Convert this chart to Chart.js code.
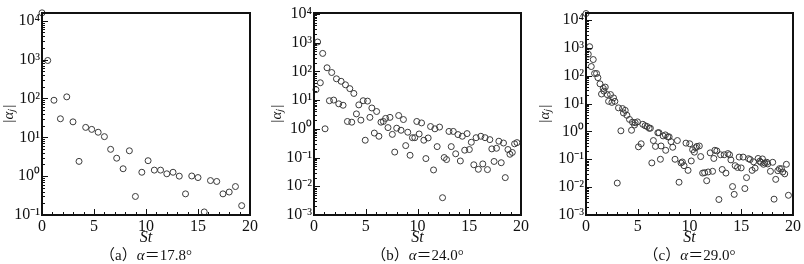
<!DOCTYPE html>
<html>
<head>
<meta charset="utf-8">
<script src="https://cdn.jsdelivr.net/npm/chart.js@4/dist/chart.umd.min.js"></script>
<style>
  html, body { margin: 0; padding: 0; background: #fff; }
  #wrap { position: relative; width: 804px; height: 264px; }
  canvas { position: absolute; top: 0; }
  .cap {
    position: absolute; top: 246px; height: 18px; line-height: 18px;
    text-align: center; font-size: 15px; color: #111;
    font-family: "Liberation Serif", "Noto Sans CJK SC", serif;
  }
</style>
</head>
<body>
<div id="wrap">
  <canvas id="chartA" width="268" height="264" style="left:0px"></canvas>
  <canvas id="chartB" width="268" height="264" style="left:268px"></canvas>
  <canvas id="chartC" width="268" height="264" style="left:536px"></canvas>
  <div class="cap" style="left:42px;width:208px">（a）<i>α</i>＝17.8°</div>
  <div class="cap" style="left:314px;width:207px">（b）<i>α</i>＝24.0°</div>
  <div class="cap" style="left:586px;width:207px">（c）<i>α</i>＝29.0°</div>
</div>
<script>
// ---- data ----
const xTicks = [0, 5, 10, 15, 20];
const decadesA = [-1, 0, 1, 2, 3, 4];
const decadesBC = [-3, -2, -1, 0, 1, 2, 3, 4];

// (a) alpha = 17.8
const stA = [0, 0.55, 1.15, 1.77, 2.38, 2.98, 3.56, 4.2, 4.78, 5.4, 6.0, 6.6, 7.18, 7.8, 8.4, 8.98,
    9.6, 10.2, 10.8, 11.4, 12.0, 12.6, 13.2, 13.8, 14.4, 15.0, 15.6, 16.2, 16.8, 17.4, 18.0, 18.6, 19.2];
const ampA = [16000, 950, 90, 30, 110, 25, 2.4, 18, 16, 13.5, 10.4, 4.9, 2.9, 1.55, 4.5, 0.30,
    1.26, 2.5, 1.43, 1.43, 1.15, 1.26, 1.0, 0.35, 1.01, 0.92, 0.12, 0.77, 0.73, 0.35, 0.39, 0.54, 0.174];

// (b) alpha = 24.0
const stB = [0.19, 0.35, 0.61, 0.84, 1.07, 1.26, 1.49, 1.71, 1.9, 2.17, 2.39, 2.62, 2.81, 3.04, 3.23,
    3.46, 3.65, 3.85, 4.1, 4.33, 4.53, 4.75, 4.95, 5.17, 5.4, 5.59, 5.83, 6.05, 6.27, 6.47, 6.7, 6.92,
    7.15, 7.34, 7.57, 7.8, 7.99, 8.18, 8.41, 8.64, 8.86, 9.06, 9.28, 9.51, 9.74, 9.93, 10.16, 10.39,
    10.61, 10.81, 11.03, 11.26, 11.55, 11.68, 11.9, 12.13, 12.42, 12.58, 12.81, 13.04, 13.26, 13.46,
    13.69, 13.91, 14.14, 14.33, 14.56, 14.79, 15.01, 15.2, 15.44, 15.66, 15.88, 16.12, 16.31, 16.53,
    16.76, 16.99, 17.18, 17.4, 17.63, 17.86, 18.09, 18.31, 18.48, 18.74, 18.93, 19.16, 19.38, 19.61];
const ampB = [23, 1050, 40, 420, 1.0, 133, 9.5, 91, 10, 55, 7.4, 45, 6.6, 34, 1.8,
    25, 1.7, 17, 3.3, 6.8, 2.0, 9.5, 0.4, 9.2, 2.5, 5.3, 0.71, 4.0, 0.55, 1.7, 1.8, 2.3,
    1.1, 2.5, 0.64, 0.155, 1.05, 2.9, 0.89, 2.1, 0.26, 0.76, 0.12, 0.49, 0.49, 1.8, 0.66, 1.6,
    0.4, 0.092, 0.48, 1.2, 0.037, 1.0, 0.24, 1.15, 0.004, 0.10, 0.085, 0.81, 0.24, 0.81,
    0.135, 0.63, 0.076, 0.55, 0.18, 0.68, 0.19, 0.34, 0.056, 0.49, 0.039, 0.55, 0.06, 0.49,
    0.038, 0.42, 0.2, 0.073, 0.21, 0.37, 0.066, 0.32, 0.02, 0.19, 0.13, 0.15, 0.30, 0.33];

// (c) alpha = 29.0
const stC = [0.0, 0.22, 0.35, 0.51, 0.7, 0.83, 1.02, 1.15, 1.35, 1.5, 1.67, 1.73, 1.86, 2.05, 2.18,
    2.37, 2.5, 2.66, 2.79, 3.02, 3.14, 3.37, 3.53, 3.62, 3.79, 3.95, 4.2, 4.4, 4.49, 4.69, 4.75, 4.97,
    5.07, 5.33, 5.49, 5.71, 5.9, 6.1, 6.22, 6.36, 6.51, 6.71, 6.94, 7.05, 7.19, 7.25, 7.45, 7.67, 7.7,
    7.9, 8.03, 8.22, 8.38, 8.6, 8.83, 8.99, 9.18, 9.31, 9.47, 9.66, 9.86, 10.02, 10.17, 10.3, 10.47,
    10.6, 10.72, 10.95, 11.08, 11.27, 11.46, 11.66, 11.8, 12.0, 12.23, 12.35, 12.45, 12.64, 12.84,
    13.0, 13.16, 13.35, 13.52, 13.71, 13.87, 14.0, 14.16, 14.32, 14.41, 14.64, 14.8, 14.99, 15.18,
    15.35, 15.51, 15.7, 15.86, 16.05, 16.19, 16.34, 16.63, 16.79, 16.89, 17.05, 17.15, 17.27, 17.47,
    17.56, 17.82, 18.04, 18.17, 18.33, 18.53, 18.69, 18.88, 19.01, 19.2, 19.36, 19.56];
const ampC = [17000, 590, 1100, 213, 380, 120, 120, 85, 51, 22, 35, 28, 39, 21, 12,
    21, 11, 16, 12, 0.014, 7, 1.05, 6.6, 4.6, 5.7, 3.8, 2.7, 1.1, 2.15, 1.7, 2.05, 2.2,
    0.28, 0.36, 1.8, 1.6, 1.5, 1.3, 1.3, 0.074, 0.47, 0.29, 0.89, 0.9, 0.1, 0.3, 0.69, 0.75, 0.21,
    0.64, 0.64, 0.43, 0.27, 0.1, 0.47, 0.015, 0.074, 0.08, 0.059, 0.38, 0.04, 0.36, 0.087, 0.22, 0.18,
    0.26, 0.29, 0.30, 0.125, 0.032, 0.033, 0.017, 0.035, 0.17, 0.037, 0.107, 0.21, 0.2, 0.0036,
    0.145, 0.043, 0.145, 0.032, 0.16, 0.145, 0.095, 0.0105, 0.0055, 0.059, 0.051, 0.12, 0.049, 0.12,
    0.0089, 0.022, 0.105, 0.098, 0.04, 0.081, 0.048, 0.107, 0.085, 0.078, 0.103, 0.066, 0.074, 0.078,
    0.068, 0.037, 0.078, 0.0037, 0.019, 0.039, 0.046, 0.046, 0.035, 0.03, 0.066, 0.0051];

const SUP = { '-': '⁻', '0': '⁰', '1': '¹', '2': '²', '3': '³', '4': '⁴' };
const FONT = 'Liberation Serif';

// frame + inward ticks, Tecplot style
const frameTicks = {
    id: 'frameTicks',
    afterDatasetsDraw(chart) {
        const { ctx, chartArea: a, scales: { x, y } } = chart;
        ctx.save();
        ctx.strokeStyle = '#111';
        ctx.lineWidth = 1;
        ctx.beginPath();
        for (let v = x.min; v <= x.max; v++) {
            const px = Math.round(x.getPixelForValue(v)) + 0.5;
            const len = v % 5 === 0 ? 6 : 3;
            ctx.moveTo(px, a.bottom);
            ctx.lineTo(px, a.bottom - len);
        }
        const e0 = Math.floor(Math.log10(y.min)), e1 = Math.ceil(Math.log10(y.max));
        for (let e = e0; e <= e1; e++) {
            for (let m = 1; m <= 9; m++) {
                const v = m * Math.pow(10, e);
                if (v < y.min * 0.999 || v > y.max * 1.001) continue;
                const py = Math.round(y.getPixelForValue(v)) + 0.5;
                const len = m === 1 ? 6 : 3;
                ctx.moveTo(a.left, py);
                ctx.lineTo(a.left + len, py);
            }
        }
        ctx.stroke();
        ctx.lineWidth = 2;
        ctx.strokeRect(a.left, a.top, a.right - a.left, a.bottom - a.top);
        ctx.restore();
    }
};

function makePanel(id, st, amp, decades, yMax, axisWidth, padRight) {
    const points = st.map((s, i) => ({ x: s, y: amp[i] }));
    return new Chart(document.getElementById(id), {
        type: 'scatter',
        data: {
            datasets: [{
                data: points,
                pointStyle: 'circle',
                pointRadius: 3,
                pointHoverRadius: 3,
                pointBorderWidth: 1,
                borderColor: '#3a3a3a',
                backgroundColor: 'rgba(0,0,0,0)',
                clip: false
            }]
        },
        options: {
            responsive: false,
            animation: false,
            layout: { padding: { top: 13, right: padRight, left: 0, bottom: 0 } },
            plugins: { legend: { display: false }, tooltip: { enabled: false } },
            scales: {
                x: {
                    type: 'linear',
                    min: 0,
                    max: 20,
                    afterBuildTicks: s => { s.ticks = xTicks.map(v => ({ value: v })); },
                    afterFit: s => { s.height = 49; },
                    grid: { display: false, drawTicks: false },
                    border: { display: false },
                    ticks: {
                        padding: 2,
                        maxRotation: 0,
                        color: '#111',
                        font: { family: FONT, size: 16 }
                    },
                    title: {
                        display: true,
                        text: 'St',
                        color: '#111',
                        padding: { top: 0, bottom: 17 },
                        font: { family: FONT, size: 16, style: 'italic' }
                    }
                },
                y: {
                    type: 'logarithmic',
                    min: Math.pow(10, decades[0]),
                    max: yMax,
                    afterBuildTicks: s => {
                        s.ticks = decades.map(e => ({ value: Math.pow(10, e), major: true }));
                    },
                    afterFit: s => { s.width = axisWidth; },
                    grid: { display: false, drawTicks: false },
                    border: { display: false },
                    ticks: {
                        padding: 2,
                        autoSkip: false,
                        color: '#111',
                        font: { family: FONT, size: 16 },
                        callback: v => {
                            const e = Math.round(Math.log10(v));
                            return '10' + String(e).split('').map(c => SUP[c]).join('');
                        }
                    },
                    title: {
                        display: true,
                        text: '|αⱼ|',
                        color: '#111',
                        padding: 0,
                        font: { family: FONT, size: 15, style: 'italic' }
                    }
                }
            }
        },
        plugins: [frameTicks]
    });
}

makePanel('chartA', stA, ampA, decadesA, Math.pow(10, 4.2), 42, 18);
makePanel('chartB', stB, ampB, decadesBC, Math.pow(10, 4.03), 46, 15);
makePanel('chartC', stC, ampC, decadesBC, Math.pow(10, 4.25), 50, 11);
</script>
</body>
</html>
